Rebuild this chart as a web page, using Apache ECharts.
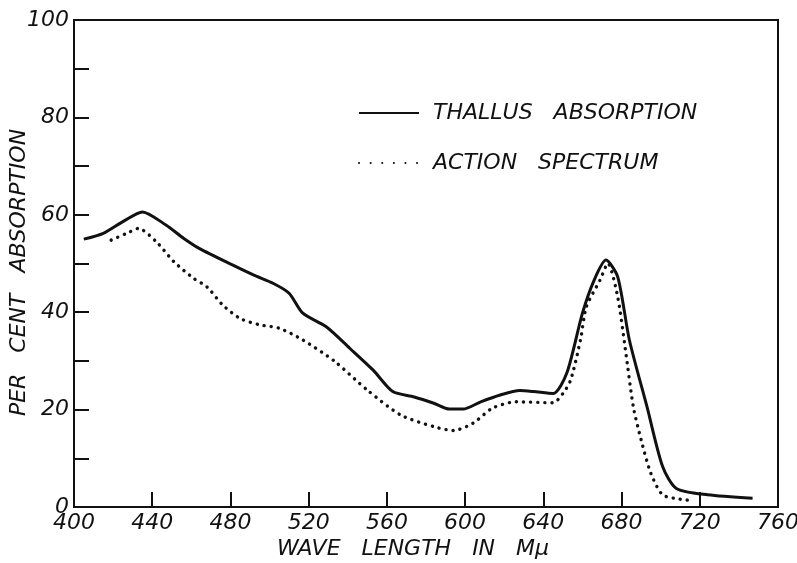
<!DOCTYPE html>
<html>
<head>
<meta charset="utf-8">
<script src="https://cdn.jsdelivr.net/npm/echarts@6/dist/echarts.min.js"></script>
<style>
  html, body { margin: 0; padding: 0; background: #fff; }
  #chart { width: 797px; height: 563px; }
</style>
</head>
<body>
<div id="chart"></div>
<script>
// wavelength (m\u03bc) and per cent absorption
const thallusWave = [405, 415, 425, 435, 447, 456, 464, 481, 492, 502, 510, 517, 529, 541, 553, 563, 574, 584, 592, 599, 608, 618, 628, 635, 645, 652, 660, 666, 672, 678, 684, 693, 701, 708, 724, 747];
const thallusPct = [55.0, 56.2, 58.6, 60.6, 57.9, 55.2, 53.1, 49.7, 47.6, 45.9, 43.9, 39.8, 37.0, 32.6, 28.1, 23.7, 22.6, 21.3, 20.1, 20.1, 21.6, 23.0, 23.9, 23.7, 23.3, 27.5, 39.8, 46.6, 50.7, 47.3, 34.3, 20.6, 8.3, 3.8, 2.5, 1.8];

const actionWave = [419, 427, 433, 442, 451, 461, 468, 476, 485, 495, 505, 517, 533, 550, 567, 584, 594, 604, 614, 626, 645, 650, 654, 659, 662, 669, 673, 678, 682, 686, 690, 695, 701, 710, 717];
const actionPct = [54.8, 56.2, 57.2, 54.5, 50.4, 47.0, 45.2, 41.5, 38.7, 37.4, 36.7, 34.3, 30.0, 24.0, 18.9, 16.5, 15.7, 17.2, 20.3, 21.6, 21.4, 23.3, 26.1, 34.3, 41.1, 46.6, 50.0, 43.2, 32.2, 20.6, 13.8, 6.9, 2.5, 1.6, 1.3];

const seriesNames = ["THALLUS   ABSORPTION", "ACTION   SPECTRUM"];
const xTicks = [400, 440, 480, 520, 560, 600, 640, 680, 720, 760];
const yLabels = [0, 20, 40, 60, 80, 100];

const ink = "#111";
const letterFont = {
  fontFamily: "DejaVu Sans",
  fontStyle: "italic",
  fontWeight: "normal",
  color: ink,
};

const chart = echarts.init(document.getElementById("chart"));

const pairs = (xs, ys) => xs.map((x, i) => [x, ys[i]]);

const option = {
  backgroundColor: "#fff",
  animation: false,
  grid: {
    left: 74,
    right: 19,
    top: 20,
    bottom: 56,
    containLabel: false,
    outerBoundsMode: "none",
    show: true,
    borderColor: ink,
    borderWidth: 2,
  },
  legend: {
    orient: "vertical",
    left: 353,
    top: 97,
    itemGap: 28,
    itemWidth: 60,
    itemHeight: 20,
    itemStyle: { opacity: 0 },
    textStyle: { ...letterFont, fontSize: 22, padding: [0, 0, 0, 9] },
    data: [
      { name: seriesNames[0] },
      { name: seriesNames[1], lineStyle: { type: [0.1, 11.5] } },
    ],
  },
  xAxis: {
    type: "value",
    min: xTicks[0],
    max: xTicks[xTicks.length - 1],
    interval: 40,
    name: "WAVE   LENGTH   IN   M\u03bc",
    nameLocation: "middle",
    nameGap: 31,
    nameMoveOverlap: false,
    nameTextStyle: { ...letterFont, fontSize: 22, padding: [0, 26, 0, 0] },
    axisLine: { lineStyle: { color: ink, width: 2 } },
    axisTick: { inside: true, length: 15, lineStyle: { color: ink, width: 2 } },
    axisLabel: { ...letterFont, fontSize: 22, margin: 5 },
    splitLine: { show: false },
  },
  yAxis: {
    type: "value",
    min: 0,
    max: 100,
    interval: 10,
    name: "PER   CENT   ABSORPTION",
    nameLocation: "middle",
    nameGap: 44,
    nameMoveOverlap: false,
    nameTextStyle: { ...letterFont, fontSize: 22, padding: [0, 18, 0, 0] },
    axisLine: { lineStyle: { color: ink, width: 2 } },
    axisTick: { inside: true, length: 15, lineStyle: { color: ink, width: 2 } },
    axisLabel: {
      ...letterFont,
      fontSize: 22,
      margin: 5,
      formatter: (v) => (yLabels.indexOf(v) >= 0 ? String(v) : ""),
    },
    splitLine: { show: false },
  },
  series: [
    {
      name: seriesNames[0],
      type: "line",
      smooth: 0.25,
      showSymbol: false,
      symbolSize: 0,
      lineStyle: { color: ink, width: 3 },
      itemStyle: { color: ink },
      data: pairs(thallusWave, thallusPct),
    },
    {
      name: seriesNames[1],
      type: "line",
      smooth: 0.25,
      showSymbol: false,
      symbolSize: 0,
      lineStyle: { color: ink, width: 3.4, type: [0.1, 7], cap: "round" },
      itemStyle: { color: ink },
      data: pairs(actionWave, actionPct),
    },
  ],
};

chart.setOption(option);

window.addEventListener("resize", () => {
  chart.resize();
});
</script>
</body>
</html>
